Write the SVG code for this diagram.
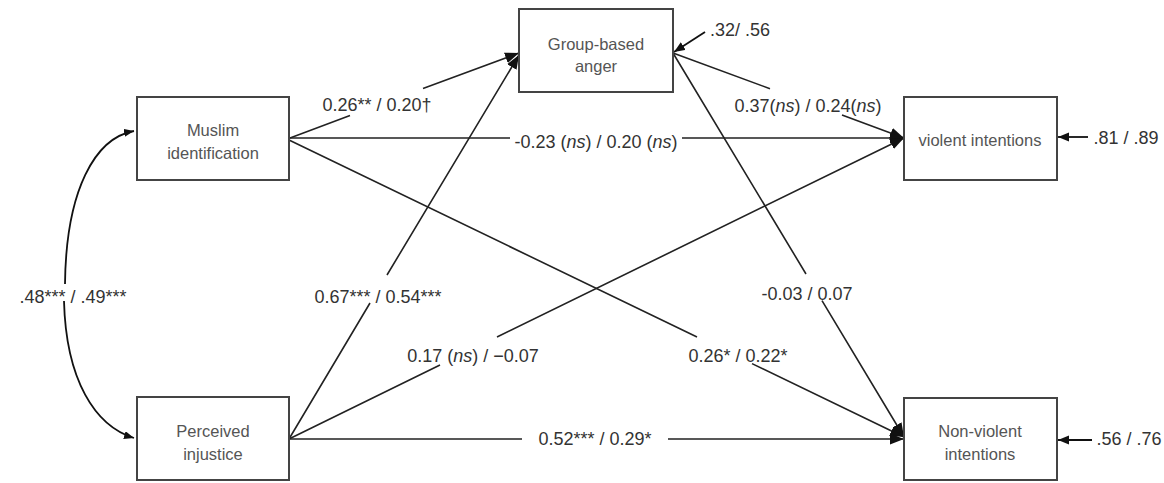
<svg xmlns="http://www.w3.org/2000/svg" width="1164" height="483" viewBox="0 0 1164 483">
<style>
.box{fill:#fff;stroke:#444;stroke-width:2}
.nt{font-family:"Liberation Sans",Arial,sans-serif;font-size:16.5px;fill:#555;text-anchor:middle}
.el{font-family:"Liberation Sans",Arial,sans-serif;font-size:18px;fill:#333;text-anchor:middle}
.c{fill:none;stroke:#222;stroke-width:1.6}
.e{fill:none;stroke:#111;stroke-width:1.8}
</style>
<defs>
<marker id="arr" markerUnits="userSpaceOnUse" markerWidth="15" markerHeight="12" refX="14" refY="5.5" orient="auto"><path d="M0,0 L14,5.5 L0,11 z" fill="#111"/></marker>
<marker id="sarr" markerUnits="userSpaceOnUse" markerWidth="12" markerHeight="10" refX="11" refY="4.5" orient="auto"><path d="M0,0 L11,4.5 L0,9 z" fill="#111"/></marker>
<marker id="carr" markerUnits="userSpaceOnUse" markerWidth="11" markerHeight="9" refX="10" refY="4" orient="auto"><path d="M0,0 L10,4 L0,8 z" fill="#111"/></marker>
</defs>
<rect width="1164" height="483" fill="#fff"/>
<g id="connectors">
<path class="c" d="M290,138 L350,115.6 M423,88.4 L519,53" marker-end="url(#arr)"/>
<path class="c" d="M289,439 L370,303 M387,275 L519,55" marker-end="url(#arr)"/>
<path class="c" d="M289,138 L510,138 M682,138 L904,138" marker-end="url(#arr)"/>
<path class="c" d="M289,140 L697,337 M752,363.6 L904,437" marker-end="url(#arr)"/>
<path class="c" d="M289,439 L440,365 M497,337 L904,138" marker-end="url(#arr)"/>
<path class="c" d="M289,439 L522,439 M668,439 L904,439" marker-end="url(#arr)"/>
<path class="c" d="M673,53 L770,88.7 M842,115 L904,138" marker-end="url(#arr)"/>
<path class="c" d="M673,53 L806,274 M822,300.6 L904,437" marker-end="url(#arr)"/>
<path class="e" d="M705,32 L674,52" marker-end="url(#sarr)"/>
<path class="e" d="M1088,137 L1058,137" marker-end="url(#sarr)"/>
<path class="e" d="M1092,440 L1058,440" marker-end="url(#sarr)"/>
<path class="e" d="M65,284 C66,190 95,138 134,131" marker-end="url(#carr)"/>
<path class="e" d="M64,301 C66,380 95,426 134,438" marker-end="url(#carr)"/>
</g>
<g id="muslim">
<rect class="box" x="137" y="97" width="152" height="83"/>
<text class="nt" x="213" y="136">Muslim</text>
<text class="nt" x="213" y="159">identification</text>
</g>
<g id="anger">
<rect class="box" x="519" y="9" width="154" height="83"/>
<text class="nt" x="596" y="50">Group-based</text>
<text class="nt" x="596" y="72">anger</text>
</g>
<g id="violent">
<rect class="box" x="904" y="97" width="153" height="83"/>
<text class="nt" x="980" y="146">violent intentions</text>
</g>
<g id="injustice">
<rect class="box" x="137" y="397" width="152" height="83"/>
<text class="nt" x="213" y="437">Perceived</text>
<text class="nt" x="213" y="460">injustice</text>
</g>
<g id="nonviolent">
<rect class="box" x="904" y="398" width="153" height="82"/>
<text class="nt" x="980" y="437">Non-violent</text>
<text class="nt" x="980" y="460">intentions</text>
</g>
<g id="labels">
<text class="el" x="377" y="111">0.26** / 0.20†</text>
<text class="el" x="596" y="148">-0.23 (<tspan font-style="italic">ns</tspan>) / 0.20 (<tspan font-style="italic">ns</tspan>)</text>
<text class="el" x="740" y="36">.32/ .56</text>
<text class="el" x="808" y="112">0.37(<tspan font-style="italic">ns</tspan>) / 0.24(<tspan font-style="italic">ns</tspan>)</text>
<text class="el" x="1126" y="144">.81 / .89</text>
<text class="el" x="73" y="303">.48*** / .49***</text>
<text class="el" x="378" y="303">0.67*** / 0.54***</text>
<text class="el" x="473" y="362">0.17 (<tspan font-style="italic">ns</tspan>) / −0.07</text>
<text class="el" x="738" y="362">0.26* / 0.22*</text>
<text class="el" x="807" y="300">-0.03 / 0.07</text>
<text class="el" x="595" y="445">0.52*** / 0.29*</text>
<text class="el" x="1129" y="445">.56 / .76</text>
</g>
</svg>
